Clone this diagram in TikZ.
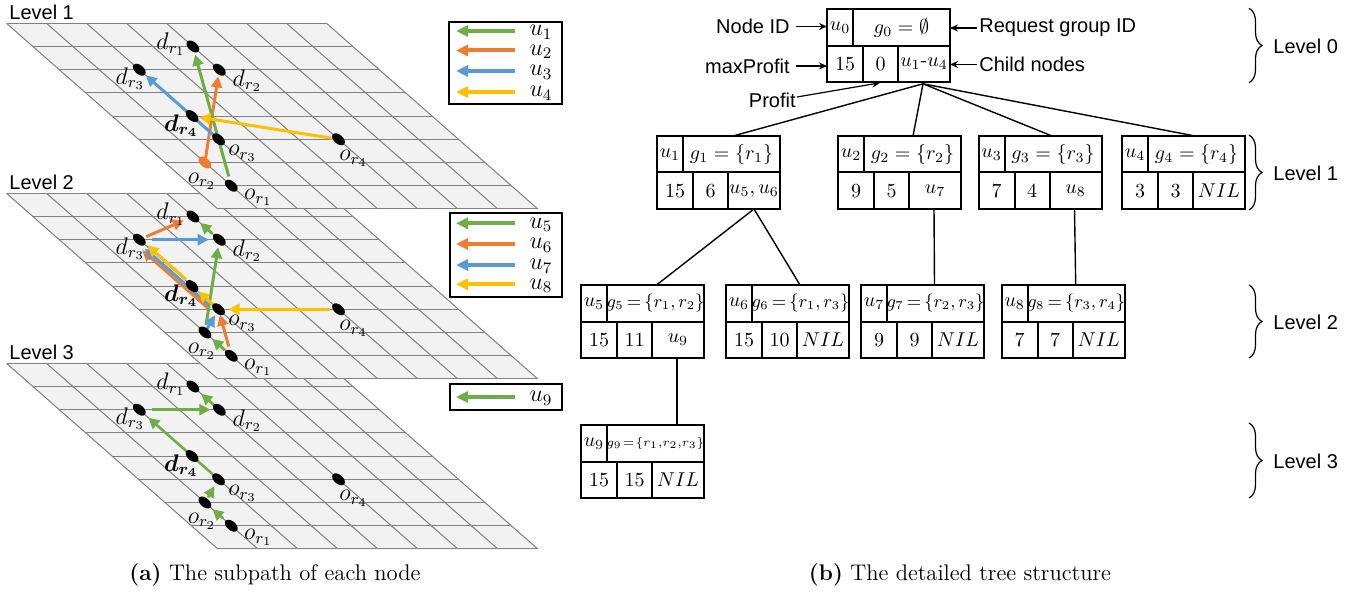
\documentclass[tikz,border=0pt]{standalone}
\usepackage{fontspec}
\usepackage{amsmath}
\newfontfamily\arialf{Liberation Sans}
\usetikzlibrary{arrows.meta,shapes.geometric,calc,decorations.pathreplacing}
\definecolor{cgreen}{RGB}{112,173,71}
\definecolor{corange}{RGB}{237,125,49}
\definecolor{cblue}{RGB}{91,155,213}
\definecolor{cyellow}{RGB}{255,192,0}
\definecolor{gridfill}{RGB}{242,242,242}
\definecolor{gridline}{RGB}{128,128,128}
\pgfdeclarelayer{gridC}
\pgfdeclarelayer{arrC}
\pgfdeclarelayer{dotC}
\pgfdeclarelayer{gridB}
\pgfdeclarelayer{arrB}
\pgfdeclarelayer{dotB}
\pgfdeclarelayer{gridA}
\pgfdeclarelayer{arrA}
\pgfdeclarelayer{dotA}
\pgfsetlayers{gridC,arrC,dotC,gridB,arrB,dotB,gridA,arrA,dotA,main}
\newcommand{\bdr}{\ensuremath{\boldsymbol{d}_{\boldsymbol{r_4}}}}
\newcommand{\lvtwofont}{\fontsize{9}{11}\selectfont\thickmuskip=3mu\relax}
\newcommand{\lvthreefont}{\fontsize{6}{8}\selectfont\thickmuskip=1.5mu\relax}
\tikzset{
  gline/.style={draw=gridline, line width=0.5pt},
  mapdot/.style={shape=ellipse, fill=black, minimum width=7.5pt, minimum height=4.5pt, inner sep=0pt, rotate=-41},
  maplab/.style={inner sep=0pt, font=\fontsize{12}{14}\selectfont},
  arr/.style={line width=1.5pt, -{Triangle[length=5.5pt,width=5.5pt]}},
  arrs/.style={line width=1.3pt, -{Triangle[length=5.5pt,width=5.5pt]}},
  legbox/.style={draw, line width=1pt, inner sep=0pt},
  legarr/.style={line width=2pt, -{Triangle[length=6pt,width=5.5pt]}},
  leglab/.style={inner sep=0pt, font=\fontsize{11.5}{13}\selectfont},
  lvl/.style={inner sep=0pt, font=\arialf\fontsize{10}{12}\selectfont},
  tbox/.style={draw, line width=1pt, minimum width=61.5pt, minimum height=36.5pt, inner sep=0pt, outer sep=0pt},
  tline/.style={line width=1pt},
  ttext/.style={inner sep=0pt, font=\fontsize{10}{12}\selectfont},
  tree/.style={line width=0.7pt},
  ann/.style={inner sep=0pt, font=\arialf\fontsize{10}{12}\selectfont},
  annarr/.style={line width=0.6pt, -{Stealth[length=4pt,width=3.5pt]}},
  bracec/.style={line width=0.6pt, decorate, decoration={brace, amplitude=6.5pt}},
  captext/.style={inner sep=0pt, font=\fontsize{11.3}{13}\selectfont}
}
\begin{document}
\begin{tikzpicture}[x=0.5pt,y=-0.5pt]
\useasboundingbox (0,0) rectangle (1364,593);
% ================= Level 3 map (y0 = 363.3)
\begin{pgfonlayer}{gridC}
\fill[gridfill] (6.5,363.3) -- (326.5,363.3) -- (537.7,548.9) -- (217.7,548.9) -- cycle;
\foreach \j in {0,...,8} {\draw[gline] (6.5+26.4*\j,363.3+23.2*\j) -- (326.5+26.4*\j,363.3+23.2*\j);}
\foreach \i in {0,...,8} {\draw[gline] (6.5+40*\i,363.3) -- (217.7+40*\i,548.9);}
\end{pgfonlayer}
\begin{pgfonlayer}{dotC}
\node[mapdot] (Cdr1) at (192.9,386.5) {};
\node[mapdot] (Cdr2) at (219.3,409.7) {};
\node[mapdot] (Cdr3) at (139.3,409.7) {};
\node[mapdot] (Cdr4) at (192.1,456.1) {};
\node[mapdot] (Cor3) at (218.5,479.3) {};
\node[mapdot] (Cor4) at (338.5,479.3) {};
\node[mapdot] (Cor2) at (204.9,502.5) {};
\node[mapdot] (Cor1) at (231.3,525.7) {};
\node[maplab] (CLdr1) at (170.9,384.0) {$d_{r_1}$};
\node[maplab] (CLdr2) at (247.3,420.7) {$d_{r_2}$};
\node[maplab] (CLdr3) at (130.3,418.7) {$d_{r_3}$};
\node[maplab] (CLdr4) at (181.1,465.6) {\bdr};
\node[maplab] (CLor3) at (242.5,493.3) {$o_{r_3}$};
\node[maplab] (CLor4) at (353.5,498.3) {$o_{r_4}$};
\node[maplab] (CLor2) at (201.9,521.0) {$o_{r_2}$};
\node[maplab] (CLor1) at (258.3,537.7) {$o_{r_1}$};
\end{pgfonlayer}
\begin{pgfonlayer}{arrC}
\draw[arrs,cgreen,shorten <=5.5pt,shorten >=5pt] (Cor1.center) -- (Cor2.center);
\draw[arrs,cgreen,shorten <=3pt,shorten >=4pt] (Cor2.center) -- (Cor3.center);
\draw[arrs,cgreen,shorten <=4pt,shorten >=6pt] (Cor3.center) -- (Cdr3.center);
\draw[arrs,cgreen,shorten <=6.5pt,shorten >=4.5pt] (Cdr3.center) -- (Cdr2.center);
\draw[arrs,cgreen,shorten <=3.2pt,shorten >=5.5pt] (Cdr2.center) -- (Cdr1.center);
\end{pgfonlayer}
% ================= Level 2 map (y0 = 193.3)
\begin{pgfonlayer}{gridB}
\fill[gridfill] (6.5,193.3) -- (326.5,193.3) -- (537.7,378.9) -- (217.7,378.9) -- cycle;
\foreach \j in {0,...,8} {\draw[gline] (6.5+26.4*\j,193.3+23.2*\j) -- (326.5+26.4*\j,193.3+23.2*\j);}
\foreach \i in {0,...,8} {\draw[gline] (6.5+40*\i,193.3) -- (217.7+40*\i,378.9);}
\end{pgfonlayer}
\begin{pgfonlayer}{dotB}
\node[mapdot] (Bdr1) at (192.9,216.5) {};
\node[mapdot] (Bdr2) at (219.3,239.7) {};
\node[mapdot] (Bdr3) at (139.3,239.7) {};
\node[mapdot] (Bdr4) at (192.1,286.1) {};
\node[mapdot] (Bor3) at (218.5,309.3) {};
\node[mapdot] (Bor4) at (338.5,309.3) {};
\node[mapdot] (Bor2) at (204.9,332.5) {};
\node[mapdot] (Bor1) at (231.3,355.7) {};
\node[maplab] (BLdr1) at (170.9,214.0) {$d_{r_1}$};
\node[maplab] (BLdr2) at (247.3,250.7) {$d_{r_2}$};
\node[maplab] (BLdr3) at (130.3,248.7) {$d_{r_3}$};
\node[maplab] (BLdr4) at (181.1,295.6) {\bdr};
\node[maplab] (BLor3) at (242.5,323.3) {$o_{r_3}$};
\node[maplab] (BLor4) at (353.5,328.3) {$o_{r_4}$};
\node[maplab] (BLor2) at (201.9,351.0) {$o_{r_2}$};
\node[maplab] (BLor1) at (258.3,367.7) {$o_{r_1}$};
\end{pgfonlayer}
\begin{pgfonlayer}{arrB}
\draw[arr,cgreen,shorten <=4.3pt,shorten >=4.8pt] (Bor1.center) -- (Bor2.center);
\draw[arr,cgreen,shorten <=3.8pt,shorten >=3.8pt] (Bor2.center) -- (Bdr2.center);
\draw[arr,cgreen,shorten <=4.6pt,shorten >=4.8pt] (Bdr2.center) -- (Bdr1.center);
\draw[arr,corange,shorten <=4.7pt,shorten >=2.8pt] (Bor1.center) -- (Bor3.center);
\draw[arr,corange,shorten <=4.5pt,shorten >=4.5pt,transform canvas={shift={(-4,4.5)}}] (Bor3.center) -- (Bdr3.center);
\draw[arr,corange,shorten <=3.8pt,shorten >=5pt] (Bdr3.center) -- (Bdr1.center);
\draw[arr,cblue,shorten <=2pt,shorten >=3.5pt] (Bor2.center) -- (Bor3.center);
\draw[arr,cblue,shorten <=5pt,shorten >=5pt,transform canvas={shift={(-2,2.25)}}] (Bor3.center) -- (Bdr3.center);
\draw[arr,cblue,shorten <=6.3pt,shorten >=5.3pt] (Bdr3.center) -- (Bdr2.center);
\draw[arr,cyellow,shorten <=4.5pt,shorten >=5pt] (Bor4.center) -- (Bor3.center);
\draw[arr,cyellow,shorten <=3pt,shorten >=4pt] (Bor3.center) -- (Bdr4.center);
\draw[arr,cyellow,shorten <=4.6pt,shorten >=5pt,transform canvas={shift={(0.7,-0.8)}}] (Bdr4.center) -- (Bdr3.center);
\end{pgfonlayer}
% ================= Level 1 map (y0 = 23.3)
\begin{pgfonlayer}{gridA}
\fill[gridfill] (6.5,23.3) -- (326.5,23.3) -- (537.7,208.9) -- (217.7,208.9) -- cycle;
\foreach \j in {0,...,8} {\draw[gline] (6.5+26.4*\j,23.3+23.2*\j) -- (326.5+26.4*\j,23.3+23.2*\j);}
\foreach \i in {0,...,8} {\draw[gline] (6.5+40*\i,23.3) -- (217.7+40*\i,208.9);}
\end{pgfonlayer}
\begin{pgfonlayer}{dotA}
\node[mapdot] (Adr1) at (192.9,46.5) {};
\node[mapdot] (Adr2) at (219.3,69.7) {};
\node[mapdot] (Adr3) at (139.3,69.7) {};
\node[mapdot] (Adr4) at (192.1,116.1) {};
\node[mapdot] (Aor3) at (218.5,139.3) {};
\node[mapdot] (Aor4) at (338.5,139.3) {};
\node[mapdot, fill=corange] (Aor2) at (204.9,162.5) {};
\node[mapdot] (Aor1) at (231.3,185.7) {};
\node[maplab] (ALdr1) at (170.9,44.0) {$d_{r_1}$};
\node[maplab] (ALdr2) at (247.3,80.7) {$d_{r_2}$};
\node[maplab] (ALdr3) at (130.3,78.7) {$d_{r_3}$};
\node[maplab] (ALdr4) at (181.1,125.6) {\bdr};
\node[maplab] (ALor3) at (242.5,153.3) {$o_{r_3}$};
\node[maplab] (ALor4) at (353.5,158.3) {$o_{r_4}$};
\node[maplab] (ALor2) at (201.9,181.0) {$o_{r_2}$};
\node[maplab] (ALor1) at (258.3,197.7) {$o_{r_1}$};
\end{pgfonlayer}
\begin{pgfonlayer}{arrA}
\draw[arr,corange,shorten <=1pt,shorten >=3.4pt] (Aor2.center) -- (Adr2.center);
\draw[arr,cgreen,shorten <=4.8pt,shorten >=4.2pt] (Aor1.center) -- (Adr1.center);
\draw[arr,cblue,shorten <=3.7pt,shorten >=4.3pt] (Aor3.center) -- (Adr3.center);
\draw[arr,cyellow,shorten <=2.4pt,shorten >=3.7pt] (Aor4.center) -- (Adr4.center);
\end{pgfonlayer}
% ================= level labels
\node[lvl, anchor=west] (lvA) at (9,12) {Level 1};
\node[lvl, anchor=west] (lvB) at (9,182) {Level 2};
\node[lvl, anchor=west] (lvC) at (9,352) {Level 3};
% ================= legends
\node[legbox, minimum width=56.5pt, minimum height=41.2pt] (legA) at (505.5,62.9) {};
\coordinate (la1t) at (514.5,31);
\coordinate (la1h) at (456,31);
\coordinate (la2t) at (514.5,50.5);
\coordinate (la2h) at (456,50.5);
\coordinate (la3t) at (514.5,71);
\coordinate (la3h) at (456,71);
\coordinate (la4t) at (514.5,92);
\coordinate (la4h) at (456,92);
\draw[legarr,cgreen] (la1t) -- (la1h);
\draw[legarr,corange] (la2t) -- (la2h);
\draw[legarr,cblue] (la3t) -- (la3h);
\draw[legarr,cyellow] (la4t) -- (la4h);
\node[leglab] (la1l) at (541,32.5) {$u_1$};
\node[leglab] (la2l) at (541,52) {$u_2$};
\node[leglab] (la3l) at (541,72.5) {$u_3$};
\node[leglab] (la4l) at (541,93.5) {$u_4$};
\node[legbox, minimum width=56pt, minimum height=42pt] (legB) at (506,255.3) {};
\coordinate (lb1t) at (514.5,223.3);
\coordinate (lb1h) at (456,223.3);
\coordinate (lb2t) at (514.5,244);
\coordinate (lb2h) at (456,244);
\coordinate (lb3t) at (514.5,265);
\coordinate (lb3h) at (456,265);
\coordinate (lb4t) at (514.5,284.3);
\coordinate (lb4h) at (456,284.3);
\draw[legarr,cgreen] (lb1t) -- (lb1h);
\draw[legarr,corange] (lb2t) -- (lb2h);
\draw[legarr,cblue] (lb3t) -- (lb3h);
\draw[legarr,cyellow] (lb4t) -- (lb4h);
\node[leglab] (lb1l) at (541,224.8) {$u_5$};
\node[leglab] (lb2l) at (541,245.5) {$u_6$};
\node[leglab] (lb3l) at (541,266.5) {$u_7$};
\node[leglab] (lb4l) at (541,285.8) {$u_8$};
\node[legbox, minimum width=56pt, minimum height=13pt] (legC) at (506,397) {};
\coordinate (lc1t) at (514.5,397);
\coordinate (lc1h) at (456,397);
\draw[legarr,cgreen] (lc1t) -- (lc1h);
\node[leglab] (lc1l) at (541,398.5) {$u_9$};
% ================= tree nodes
\newcommand{\tnode}[9]{%
  \node[tbox, anchor=north west] (#1) at (#2,#3) {};
  \draw[tline] ($(#1.north west)+(0,36.5)$) -- ($(#1.north east)+(0,36.5)$);
  \draw[tline] ($(#1.north west)+(26,0)$) -- ($(#1.north west)+(26,36.5)$);
  \draw[tline] ($(#1.north west)+(36,36.5)$) -- ($(#1.south west)+(36,0)$);
  \draw[tline] ($(#1.north west)+(71,36.5)$) -- ($(#1.south west)+(71,0)$);
  \node[ttext] (#1-u) at ($(#1.north west)+(13,18.25)$) {$#4$};
  \node[ttext] (#1-g) at ($(#1.north west)+(74.5,18.25)$) {#9$#5$};
  \node[ttext] (#1-m) at ($(#1.north west)+(18,54.75)$) {$#6$};
  \node[ttext] (#1-p) at ($(#1.north west)+(53.5,54.75)$) {$#7$};
  \node[ttext] (#1-c) at ($(#1.north west)+(97,54.75)$) {$#8$};
}
\tnode{n0}{827}{9.3}{u_0}{g_0=\emptyset}{15}{0}{u_1\text{-}u_4}{}
\tnode{n1}{657}{136}{u_1}{g_1=\{r_1\}}{15}{6}{u_5,u_6}{}
\tnode{n2}{838}{136}{u_2}{g_2=\{r_2\}}{9}{5}{u_7}{}
\tnode{n3}{978.5}{136}{u_3}{g_3=\{r_3\}}{7}{4}{u_8}{}
\tnode{n4}{1122}{136}{u_4}{g_4=\{r_4\}}{3}{3}{NIL}{}
\tnode{n5}{581}{285}{u_5}{g_5=\{r_1,r_2\}}{15}{11}{u_9}{\lvtwofont}
\tnode{n6}{726}{285}{u_6}{g_6=\{r_1,r_3\}}{15}{10}{NIL}{\lvtwofont}
\tnode{n7}{861}{285}{u_7}{g_7=\{r_2,r_3\}}{9}{9}{NIL}{\lvtwofont}
\tnode{n8}{1001.7}{285}{u_8}{g_8=\{r_3,r_4\}}{7}{7}{NIL}{\lvtwofont}
\tnode{n9}{581}{425}{u_9}{g_9=\{r_1,\!r_2,\!r_3\}}{15}{15}{NIL}{\lvthreefont}
% ================= tree connectors
\coordinate (n0b) at ($(n0.south west)+(96,1.5)$);
\coordinate (n1b) at ($(n1.south west)+(97,0)$);
\coordinate (n2b) at ($(n2.south west)+(96,0)$);
\coordinate (n3b) at ($(n3.south west)+(96,0)$);
\coordinate (n5b) at ($(n5.south west)+(96,0)$);
\coordinate (n1t) at ($(n1.north west)+(76,0)$);
\coordinate (n2t) at ($(n2.north west)+(75,0)$);
\coordinate (n3t) at ($(n3.north west)+(73.5,0)$);
\coordinate (n4t) at ($(n4.north west)+(73,0)$);
\coordinate (n5t) at ($(n5.north west)+(75.5,0)$);
\coordinate (n6t) at ($(n6.north west)+(74,0)$);
\coordinate (n7t) at ($(n7.north west)+(73.5,0)$);
\coordinate (n8t) at ($(n8.north west)+(74,0)$);
\coordinate (n9t) at ($(n9.north west)+(96,0)$);
\draw[tree] (n0b) -- (n1t);
\draw[tree] (n0b) -- (n2t);
\draw[tree] (n0b) -- (n3t);
\draw[tree] (n0b) -- (n4t);
\draw[tree] (n1b) -- (n5t);
\draw[tree] (n1b) -- (n6t);
\draw[tree] (n2b) -- (n7t);
\draw[tree] (n3b) -- (n8t);
\draw[tree] (n5b) -- (n9t);
% ================= annotations
\node[ann, anchor=east] (aNode) at (790,26.5) {Node ID};
\node[ann, anchor=east] (aMax) at (790,66) {maxProfit};
\node[ann, anchor=west] (aReq) at (979,28) {Request group ID};
\node[ann, anchor=west] (aChild) at (979,64.5) {Child nodes};
\node[ann, anchor=east] (aProf) at (796,100) {Profit};
\coordinate (profT) at ($(n0.south west)+(53,0.5)$);
\coordinate (profS) at ($(aProf.east)+(1,-3)$);
\draw[annarr, shorten <=3pt] (aNode.east) -- (aNode.east -| n0.west);
\draw[annarr, shorten <=3pt] (aMax.east) -- (aMax.east -| n0.west);
\draw[annarr, shorten <=1pt] (aReq.west) -- (aReq.west -| n0.east);
\draw[annarr, shorten <=1pt] (aChild.west) -- (aChild.west -| n0.east);
\draw[annarr] (profS) -- (profT);
% ================= braces
\draw[bracec] (1249,8.3) -- (1249,82.7);
\draw[bracec] (1249,135) -- (1249,210);
\draw[bracec] (1249,285) -- (1249,358);
\draw[bracec] (1249,423) -- (1249,498);
\node[lvl, anchor=west] (bl0) at (1273,46) {Level 0};
\node[lvl, anchor=west] (bl1) at (1273,173) {Level 1};
\node[lvl, anchor=west] (bl2) at (1273,322) {Level 2};
\node[lvl, anchor=west] (bl3) at (1273,461) {Level 3};
% ================= captions
\node[captext] (capa) at (275,575) {\textbf{(a)} The subpath of each node};
\node[captext] (capb) at (960,575) {\textbf{(b)} The detailed tree structure};
\end{tikzpicture}
\end{document}
